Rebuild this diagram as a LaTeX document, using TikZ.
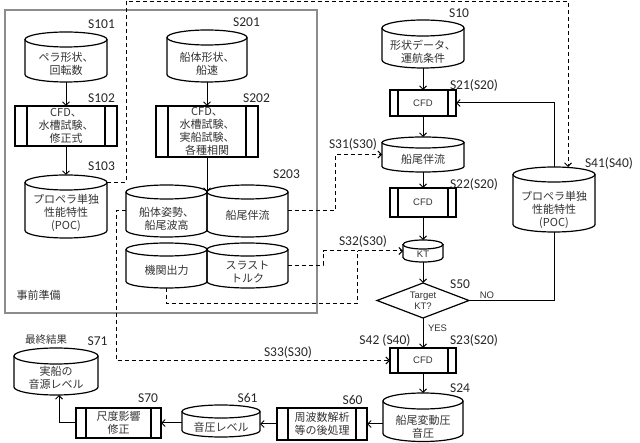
\documentclass[tikz,border=0pt]{standalone}
\usepackage{fontspec}
\setmainfont{Liberation Sans}
\newfontfamily\jpf{Noto Sans CJK JP}
\newfontfamily\lblf{Carlito}
\newfontfamily\ensf{Liberation Sans}
\newcommand{\enf}{\ensf\fontsize{9.5}{11}\selectfont}
\usetikzlibrary{arrows.meta,calc}

\newcommand{\mkcyl}[8]{%
  \node[holder, minimum width={#3pt-#2pt}, minimum height={#5pt-#4pt}] (#1) at ({(#2+#3)/2},{(#4+#5)/2}) {};
  \draw[shp] ({(#2+#3)/2},{#4+#8}) ellipse ({(#3-#2)/2} and #8);
  \draw[shp] (#2,{#4+#8}) -- (#2,{#5-#8}) arc[start angle=180, end angle=0, x radius={(#3-#2)/2}, y radius=#8] -- (#3,{#4+#8});
  \node[jt] (#1-t) at ({(#2+#3)/2},#6) {#7};
}
\newcommand{\mkproc}[7]{%
  \node[proc, minimum width={#3pt-#2pt}, minimum height={#5pt-#4pt}] (#1) at ({(#2+#3)/2},{(#4+#5)/2}) {#7};
  \draw[stripe] ({#2+#6},#4) -- ({#2+#6},#5);
  \draw[stripe] ({#3-#6},#4) -- ({#3-#6},#5);
}

\begin{document}
\begin{tikzpicture}[x=1pt,y=-1pt,
  shp/.style={draw=black, line width=1.2pt},
  stripe/.style={draw=black, line width=1.1pt},
  holder/.style={rectangle, inner sep=0pt, outer sep=0pt, align=center},
  jt/.style={inner sep=0pt, align=center, text=black!80, font=\jpf\fontsize{11}{13}\selectfont},
  proc/.style={rectangle, draw=black, line width=1.2pt, inner sep=0pt, outer sep=0pt, align=center, text=black!80, font=\jpf\fontsize{11}{13}\selectfont},
  lab/.style={inner sep=0pt, text=black!85, font=\lblf\fontsize{13.5}{14}\selectfont, text height=8.7pt, text depth=0pt},
  small/.style={inner sep=0pt, text=black!80, font=\enf},
  ln/.style={draw=black, line width=1pt},
  arr/.style={ln, -{Straight Barb[length=3.5pt,width=7pt]}},
  dsh/.style={draw=black, line width=1pt, dash pattern=on 4pt off 3pt},
  frm/.style={rectangle, draw=black!45, line width=1.3pt, inner sep=0pt, outer sep=0pt}
]
\useasboundingbox (0,0) rectangle (640,443);

% preparation frame
\node[frm, minimum width=312pt, minimum height=303pt] (prep) at (161,161.5) {};
\node[jt] (prepl) at (38.5,295) {事前準備};

% left column
\mkcyl{s101}{25}{107}{32}{82}{63.5}{ペラ形状、\\回転数}{7.5}
\mkproc{s102}{15}{117}{106}{146}{12}{CFD、\\水槽試験、\\修正式}
\mkcyl{s103}{25}{107}{175}{238}{212.5}{プロペラ単独\\性能特性\\(POC)}{7.5}

% middle column
\mkcyl{s201}{167}{247}{30}{82}{63.5}{船体形状、\\船速}{7.5}
\mkproc{s202}{156}{258}{106}{157}{12}{CFD、\\水槽試験、\\実船試験、\\各種相関}
\mkcyl{s203a}{126}{207}{185}{237}{218.5}{船体姿勢、\\船尾波高}{7}
\mkcyl{s203b}{207}{288}{185}{237}{215}{船尾伴流}{7}
\mkcyl{s203c}{126}{207}{243}{288}{270}{機関出力}{6.5}
\mkcyl{s203d}{207}{288}{243}{288}{271.5}{スラスト\\トルク}{6.5}

% right column
\mkcyl{s10}{382}{464}{20}{68}{51.5}{形状データ、\\運航条件}{8}
\mkproc{s21}{390}{456}{90}{116}{8}{\enf CFD}
\mkcyl{s31}{382}{464}{137}{172}{159}{船尾伴流}{5.5}
\mkproc{s22}{390}{456}{188}{217}{8}{\enf CFD}
\mkcyl{kt}{403}{443}{240}{262}{254}{\enf KT}{4.5}
\node[holder, minimum width=92pt, minimum height=35pt, text=black!80, font=\enf] (d) at (423,300.5) {Target\\KT?};
\draw[shp] (d.north) -- (d.east) -- (d.south) -- (d.west) -- cycle;
\mkproc{s23}{390}{456}{348}{373}{8}{\enf CFD}
\mkcyl{s24}{383}{463}{393}{441.5}{426.5}{船尾変動圧\\音圧}{8}
\mkcyl{s41}{513}{595}{167}{232}{209.5}{プロペラ単独\\性能特性\\(POC)}{7.5}

% bottom row
\mkproc{s60}{277}{367}{408}{440}{11}{周波数解析\\等の後処理}
\mkcyl{s61}{182}{260}{405}{437}{427}{音圧レベル}{6.5}
\mkproc{s70}{76}{161}{408}{438}{10}{尺度影響\\修正}
\mkcyl{s71}{14}{98}{348}{395}{378}{実船の\\音源レベル}{8}
\node[jt, font=\jpf\fontsize{10.5}{12}\selectfont] (final) at (46,339.5) {最終結果};

% labels
\node[lab] (l101) at (101.5,24) {S101};
\node[lab] (l102) at (101.5,98.5) {S102};
\node[lab] (l103) at (101.5,166) {S103};
\node[lab] (l201) at (246.5,22.5) {S201};
\node[lab] (l202) at (256.5,98.5) {S202};
\node[lab] (l203) at (286.5,174) {S203};
\node[lab] (l10) at (459,13) {S10};
\node[lab] (l21) at (474,85) {S21(S20)};
\node[lab] (l31) at (353,144.5) {S31(S30)};
\node[lab] (l22) at (474,184) {S22(S20)};
\node[lab] (l41) at (609,163) {S41(S40)};
\node[lab] (l32) at (363,241) {S32(S30)};
\node[lab] (l50) at (460,284.5) {S50};
\node[lab] (l42) at (385,340) {S42 (S40)};
\node[lab] (l23) at (474,340) {S23(S20)};
\node[lab] (l33) at (288,352) {S33(S30)};
\node[lab] (l24) at (460,388) {S24};
\node[lab] (l60) at (352.5,400.5) {S60};
\node[lab] (l61) at (247.5,398) {S61};
\node[lab] (l70) at (148,398) {S70};
\node[lab] (l71) at (97.5,341.5) {S71};
\node[small] (yes) at (437.5,328) {YES};
\node[small] (no) at (487,295) {NO};

% solid connectors
\draw[arr] (s101.south) -- (s102.north);
\draw[arr] (s102.south) -- (s103.north);
\draw[arr] (s201.south) -- (s202.north);
\draw[arr] (s202.south) -- ($(s203a.north east)+(0,7)$);
\draw[arr] (s10.south) -- (s21.north);
\draw[arr] (s21.south) -- (s31.north);
\draw[arr] (s31.south) -- (s22.north);
\draw[arr] (s22.south) -- (kt.north);
\draw[arr] (kt.south) -- (d.north);
\draw[arr] (d.south) -- (s23.north);
\draw[arr] (s23.south) -- (s24.north);
\draw[ln] (d.east) -| (s41.south);
\draw[arr] (s41.north) |- (s21.east);
\draw[arr] (s24.west |- s60.east) -- (s60.east);
\draw[arr] (s60.west) -- (s61.east |- s60.west);
\draw[arr] (s61.west |- s70.east) -- (s70.east);
\draw[arr] (s70.west) -| ([xshift=3pt]s71.south);

% dashed connectors
\coordinate (tl) at (126,1.5);
\draw[dsh, arr, dash pattern=on 4pt off 3pt] ($(s103.north east)+(0,7.5)$) -| (tl) -| ([xshift=14pt]s41.north);
\draw[dsh, arr, dash pattern=on 4pt off 3pt] (s203a.west) -- ++(-10,0) |- (s23.west);
\draw[dsh, arr, dash pattern=on 4pt off 3pt] (s203b.east) -- ++(47,0) |- (s31.west);
\draw[dsh, arr, dash pattern=on 4pt off 3pt] (s203d.east) -- ++(35,0) |- (kt.west);
\coordinate (j32) at ($(kt.west)+(-46,0)$);
\draw[dsh] (s203c.south) -- ++(0,16) -| (j32);
\end{tikzpicture}
\end{document}
